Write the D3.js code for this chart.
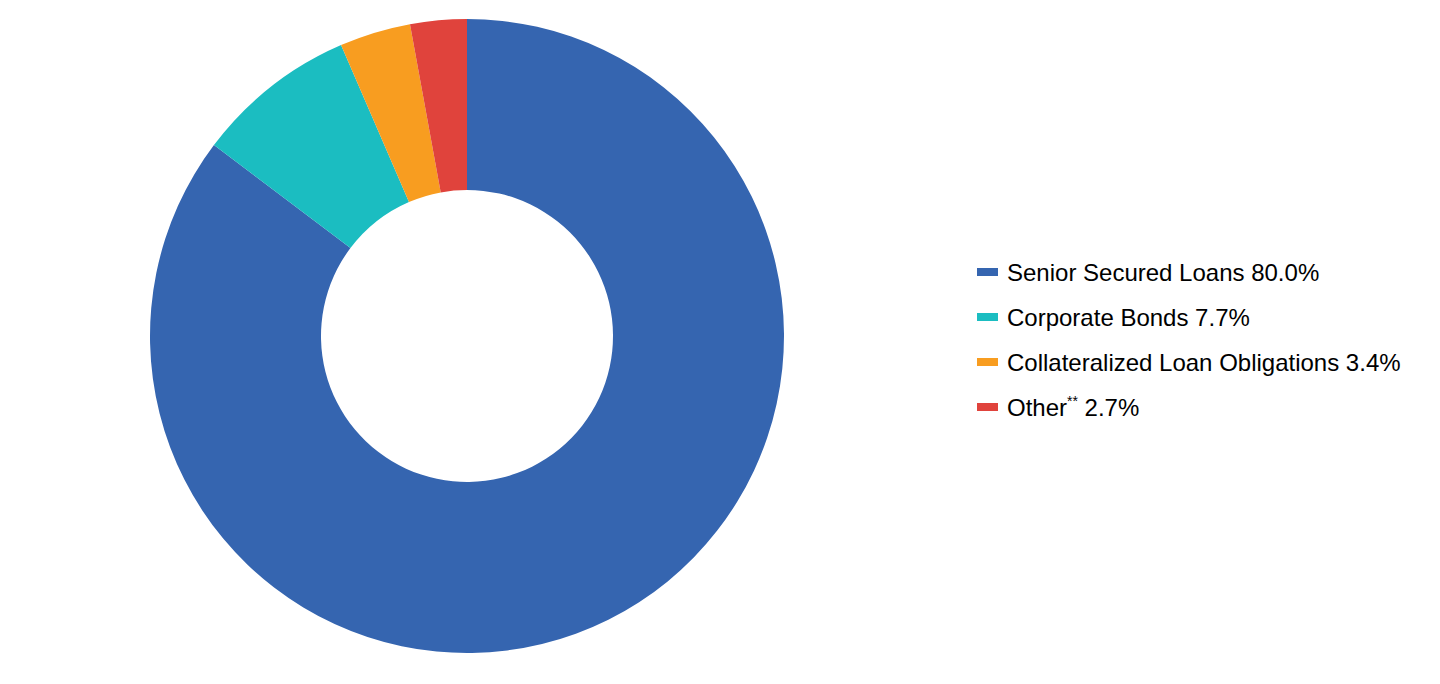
<!DOCTYPE html>
<html>
<head>
  <meta charset="utf-8">
  <title>Donut chart</title>
  <script src="https://d3js.org/d3.v7.min.js"></script>
  <style>
    body { margin: 0; background: #fff; }
    text { font-family: "Liberation Sans", Arial, sans-serif; }
  </style>
</head>
<body>
  <div id="chart"></div>
  <script>
    // Daten
    var labels = ['Senior Secured Loans', 'Corporate Bonds', 'Collateralized Loan Obligations', 'Other'];
    var values = [80.0, 7.7, 3.4, 2.7];
    var notes = ['', '', '', '**'];
    var colors = ['#3565b0', '#1bbdc1', '#f89d20', '#e0433c'];

    var width = 1440, height = 684;
    var cx = 467, cy = 336;
    var outerR = 317, innerR = 146;

    var data = labels.map(function (l, i) {
      return { label: l, value: values[i], note: notes[i] };
    });

    var color = d3.scaleOrdinal().domain(labels).range(colors);

    var svg = d3.select('#chart').append('svg')
      .attr('width', width)
      .attr('height', height);

    var pie = d3.pie().sort(null).value(function (d) { return d.value; });
    var arc = d3.arc().innerRadius(innerR).outerRadius(outerR);

    svg.append('g')
        .attr('transform', 'translate(' + cx + ',' + cy + ')')
      .selectAll('path')
        .data(pie(data))
        .enter()
      .append('path')
        .attr('d', arc)
        .attr('fill', function (d) { return color(d.data.label); });

    // Legende
    var yLegend = d3.scalePoint().domain(labels).range([272, 407]);

    var legend = svg.append('g').selectAll('g')
        .data(data)
        .enter()
      .append('g')
        .attr('transform', function (d) { return 'translate(977,' + yLegend(d.label) + ')'; });

    legend.append('rect')
      .attr('x', 0).attr('y', -4)
      .attr('width', 21).attr('height', 8)
      .attr('fill', function (d) { return color(d.label); });

    var txt = legend.append('text')
      .attr('x', 30).attr('y', 9)
      .attr('font-size', 24)
      .attr('fill', '#000');

    txt.append('tspan').text(function (d) { return d.label; });
    txt.filter(function (d) { return d.note; })
      .append('tspan')
        .attr('font-size', 14)
        .attr('dy', -10)
        .text(function (d) { return d.note; });
    txt.append('tspan')
      .attr('dy', function (d) { return d.note ? 10 : 0; })
      .text(function (d) { return ' ' + d.value.toFixed(1) + '%'; });
  </script>
</body>
</html>
